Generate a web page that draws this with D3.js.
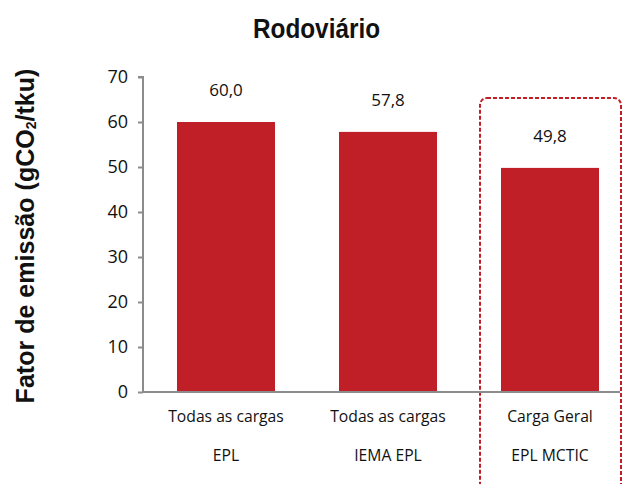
<!DOCTYPE html>
<html>
<head>
<meta charset="utf-8">
<script src="https://cdn.jsdelivr.net/npm/d3@7"></script>
<style>
  body { margin: 0; background: #fff; }
  text { font-family: "Open Sans", "Noto Sans", sans-serif; fill: #111; }
</style>
</head>
<body>
<div id="chart"></div>
<script>
const width = 623, height = 484;

const categories = ['Todas as cargas|EPL', 'Todas as cargas|IEMA EPL', 'Carga Geral|EPL MCTIC'];
const values = [60.0, 57.8, 49.8];
const yTicks = [0, 10, 20, 30, 40, 50, 60, 70];

const barColor = '#c01f28';
const axisColor = '#8c8c8c';

const svg = d3.select('#chart').append('svg')
    .attr('width', width)
    .attr('height', height);

const x = d3.scaleBand()
    .domain(categories)
    .range([145, 631])
    .paddingInner(0.395)
    .paddingOuter(0.1975);

const y = d3.scaleLinear()
    .domain([0, 70])
    .range([392, 77]);

// Highlight box around the last category
const last = categories[categories.length - 1];
svg.append('rect')
    .attr('x', x(last) + x.bandwidth() / 2 - 70)
    .attr('y', 98)
    .attr('width', 141)
    .attr('height', 400)
    .attr('rx', 7)
    .attr('fill', 'none')
    .attr('stroke', barColor)
    .attr('stroke-width', 2)
    .attr('stroke-dasharray', '4,2');

// Bars
svg.selectAll('rect.bar')
    .data(values)
    .enter()
    .append('rect')
    .attr('class', 'bar')
    .attr('x', (d, i) => x(categories[i]))
    .attr('y', d => y(d))
    .attr('width', x.bandwidth())
    .attr('height', d => y(0) - y(d))
    .attr('fill', barColor);

// Value labels
svg.selectAll('text.val')
    .data(values)
    .enter()
    .append('text')
    .attr('class', 'val')
    .attr('x', (d, i) => x(categories[i]) + x.bandwidth() / 2)
    .attr('y', d => y(d) - 26)
    .attr('text-anchor', 'middle')
    .style('font-size', '17px')
    .text(d => d.toFixed(1).replace('.', ','));

// Y Axis
const yAxis = svg.append('g')
    .attr('transform', 'translate(143,0)')
    .call(d3.axisLeft(y).tickValues(yTicks).tickSize(5).tickPadding(10));
yAxis.select('.domain').attr('stroke', axisColor).attr('stroke-width', 2)
    .attr('d', `M-5,${y(70)}H0V${y(0)}`);
yAxis.selectAll('.tick line').attr('stroke', axisColor).attr('stroke-width', 2);
yAxis.selectAll('.tick text')
    .style('font-size', '18px')
    .style('font-family', '"Open Sans", "Noto Sans", sans-serif')
    .attr('fill', '#111');

// X axis line
svg.append('line')
    .attr('x1', 142).attr('x2', 620)
    .attr('y1', y(0)).attr('y2', y(0))
    .attr('stroke', axisColor)
    .attr('stroke-width', 2);

// Category labels (two lines)
categories.forEach(c => {
    const [l1, l2] = c.split('|');
    const cx = x(c) + x.bandwidth() / 2;
    svg.append('text')
        .attr('x', cx).attr('y', 422)
        .attr('text-anchor', 'middle')
        .style('font-size', '15.7px')
        .text(l1);
    svg.append('text')
        .attr('x', cx).attr('y', 460.5)
        .attr('text-anchor', 'middle')
        .style('font-size', '15.7px')
        .text(l2);
});

// Title (narrow bold, squeezed to fit)
const title = svg.append('text')
    .attr('text-anchor', 'middle')
    .style('font-family', '"Liberation Sans", Arial, sans-serif')
    .style('font-weight', 'bold')
    .style('font-size', '28px')
    .text('Rodoviário');
const tw = title.node().getBBox().width;
title.attr('transform', `translate(316.5,37.5) scale(${127 / tw},1)`);

// Y Label
const yl = svg.append('text')
    .attr('text-anchor', 'middle')
    .style('font-family', '"Liberation Sans", Arial, sans-serif')
    .style('font-weight', 'bold')
    .style('font-size', '25px');
yl.append('tspan').text('Fator de emissão (gCO');
yl.append('tspan').text('2').style('font-size', '14px').attr('dy', 2);
yl.append('tspan').text('/tku)').attr('dy', -2);
const lw = yl.node().getBBox().width;
yl.attr('transform', `translate(34,236) rotate(-90) scale(${335 / lw},1)`);
</script>
</body>
</html>
